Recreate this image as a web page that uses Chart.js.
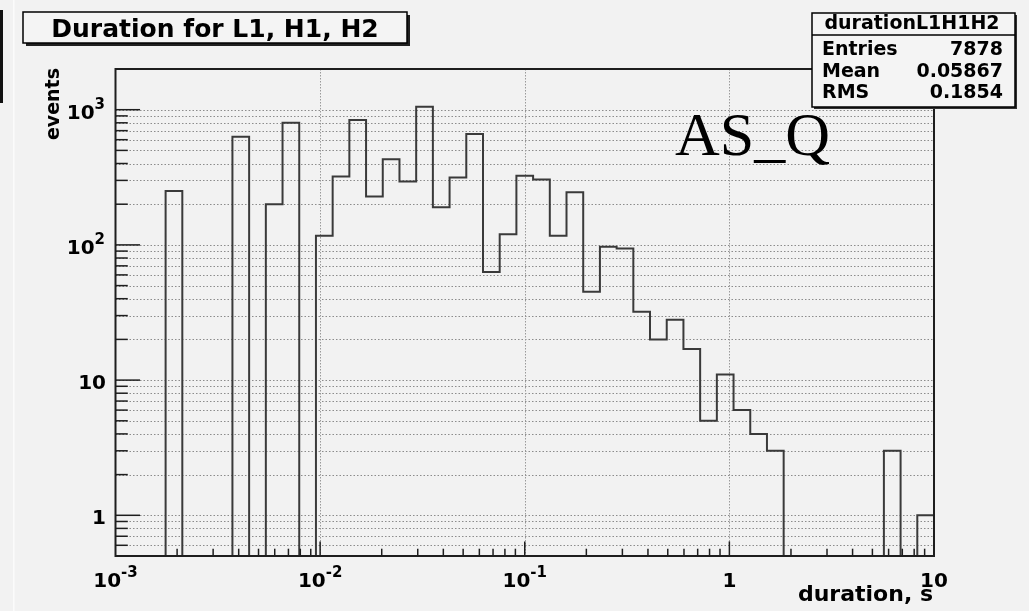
<!DOCTYPE html>
<html>
<head>
<meta charset="utf-8">
<script src="https://cdn.jsdelivr.net/npm/chart.js@4/dist/chart.umd.min.js"></script>
<style>
  html, body { margin: 0; padding: 0; background: #f2f2f2; }
  canvas { display: block; }
</style>
</head>
<body>
<canvas id="hist" width="1029" height="611"></canvas>
<script>
// histogram binning: 49 log-spaced bins from 1e-3 s to 10 s
const nBins = 49;
const xLow = 1e-3;
const xHigh = 10;

// events per bin
const counts = [
  0, 0, 0, 250, 0, 0, 0, 630,
  0, 200, 800, 0, 117, 320, 840, 228,
  430, 295, 1050, 190, 315, 660, 63, 120,
  325, 305, 117, 245, 45, 97, 94, 32,
  20, 28, 17, 5, 11, 6, 4, 3,
  0, 0, 0, 0, 0, 0, 3, 0, 1
];

const yMin = 0.5;
const yMax = 2000;

// major tick labels: [mantissa, exponent]
const xMajor = [1e-3, 1e-2, 1e-1, 1, 10];
const xMajorLabels = [['10', '-3'], ['10', '-2'], ['10', '-1'], ['1', ''], ['10', '']];
const yMajor = [1, 10, 100, 1000];
const yMajorLabels = [['1', ''], ['10', ''], ['10', '2'], ['10', '3']];

const titleText = 'Duration for L1, H1, H2';
const xTitle = 'duration, s';
const yTitle = 'events';
const statsName = 'durationL1H1H2';
const statsRows = [['Entries', '7878'], ['Mean', '0.05867'], ['RMS', '0.1854']];
const tagText = 'AS_Q';

const BOLD = 'bold {s}px "DejaVu Sans", "Liberation Sans", sans-serif';
const font = s => BOLD.replace('{s}', s);

// bin edges and stepped outline
const edges = [];
for (let i = 0; i <= nBins; i++) {
  edges.push(xLow * Math.pow(xHigh / xLow, i / nBins));
}
const outline = counts.map((c, i) => ({ x: edges[i], y: c > 0 ? c : yMin }));
outline.push({ x: edges[nBins], y: yMin });

// all decade sub-ticks (1..9 x 10^n) inside a range
function logTicks(lo, hi) {
  const out = [];
  for (let e = Math.floor(Math.log10(lo)); e <= Math.ceil(Math.log10(hi)); e++) {
    for (let m = 1; m <= 9; m++) {
      const v = m * Math.pow(10, e);
      if (v > lo * 1.0001 && v < hi * 0.9999) out.push({ v, major: m === 1 });
    }
  }
  return out;
}

function drawPower(ctx, x, y, base, exp, align, size, expSize, rise) {
  ctx.font = font(size);
  const wb = ctx.measureText(base).width;
  ctx.font = font(expSize);
  const we = exp ? ctx.measureText(exp).width : 0;
  const total = wb + we;
  let left = align === 'center' ? x - total / 2 : x - total;
  ctx.textAlign = 'left';
  ctx.font = font(size);
  ctx.fillText(base, left, y);
  if (exp) {
    ctx.font = font(expSize);
    ctx.fillText(exp, left + wb, y - rise);
  }
}

const rootFrame = {
  id: 'rootFrame',
  beforeDraw(chart) {
    const ctx = chart.ctx;
    ctx.save();
    ctx.fillStyle = '#f2f2f2';
    ctx.fillRect(0, 0, chart.width, chart.height);
    // edge of neighbouring pad
    ctx.fillStyle = '#111';
    ctx.fillRect(0, 10, 3, 93);
    ctx.fillStyle = '#fbfbfb';
    ctx.fillRect(13, 0, 1.5, chart.height);
    ctx.restore();
  },
  beforeDatasetsDraw(chart) {
    const { ctx, chartArea: a, scales: { x, y } } = chart;
    ctx.save();
    ctx.strokeStyle = '#8c8c8c';
    ctx.lineWidth = 1;
    ctx.setLineDash([1.5, 2]);
    logTicks(yMin, yMax).forEach(t => {
      const py = Math.round(y.getPixelForValue(t.v)) + 0.5;
      ctx.beginPath();
      ctx.moveTo(a.left, py);
      ctx.lineTo(a.right, py);
      ctx.stroke();
    });
    ctx.setLineDash([1.5, 1.5]);
    ctx.strokeStyle = '#9a9a9a';
    logTicks(xLow, xHigh).filter(t => t.major).forEach(t => {
      const px = Math.round(x.getPixelForValue(t.v)) + 0.5;
      ctx.beginPath();
      ctx.moveTo(px, a.top);
      ctx.lineTo(px, a.bottom);
      ctx.stroke();
    });
    ctx.restore();
  },
  afterDatasetsDraw(chart) {
    const { ctx, chartArea: a, scales: { x, y } } = chart;
    ctx.save();
    ctx.strokeStyle = '#1e1e1e';
    ctx.lineWidth = 1.5;
    // inward ticks
    const yLen = 0.03 * (a.right - a.left);
    logTicks(yMin, yMax).forEach(t => {
      const py = y.getPixelForValue(t.v);
      ctx.beginPath();
      ctx.moveTo(a.left, py);
      ctx.lineTo(a.left + (t.major ? yLen : yLen / 2), py);
      ctx.stroke();
    });
    const xLen = 0.03 * (a.bottom - a.top);
    logTicks(xLow, xHigh).forEach(t => {
      const px = x.getPixelForValue(t.v);
      ctx.beginPath();
      ctx.moveTo(px, a.bottom);
      ctx.lineTo(px, a.bottom - (t.major ? xLen : xLen / 2));
      ctx.stroke();
    });
    // frame
    ctx.lineWidth = 2;
    ctx.strokeRect(a.left, a.top, a.right - a.left, a.bottom - a.top);
    ctx.restore();
  },
  afterDraw(chart) {
    const { ctx, chartArea: a, scales: { x, y } } = chart;
    ctx.save();
    ctx.fillStyle = '#000';
    ctx.textBaseline = 'alphabetic';

    // axis labels
    yMajor.forEach((v, i) => {
      const [b, e] = yMajorLabels[i];
      drawPower(ctx, e ? 105 : 106, y.getPixelForValue(v) + 9, b, e, 'right', 20, 15, 10);
    });
    xMajor.forEach((v, i) => {
      const [b, e] = xMajorLabels[i];
      drawPower(ctx, x.getPixelForValue(v), 587, b, e, 'center', 20, 15, 10);
    });

    // axis titles
    ctx.font = font(22);
    ctx.textAlign = 'right';
    ctx.fillText(xTitle, 933, 601);
    ctx.save();
    ctx.translate(59, 68);
    ctx.rotate(-Math.PI / 2);
    ctx.font = font(19);
    ctx.textAlign = 'right';
    ctx.fillText(yTitle, 0, 0);
    ctx.restore();

    // free text
    ctx.font = '62px "Liberation Serif", "DejaVu Serif", serif';
    ctx.textAlign = 'left';
    ctx.fillText(tagText, 675, 155);

    // title box
    ctx.fillStyle = '#202020';
    ctx.fillRect(26, 15, 384, 31);
    ctx.fillStyle = '#f4f4f4';
    ctx.fillRect(23, 12, 384, 31);
    ctx.strokeStyle = '#000';
    ctx.lineWidth = 1.5;
    ctx.strokeRect(23, 12, 384, 31);
    ctx.fillStyle = '#000';
    ctx.font = font(25);
    ctx.textAlign = 'center';
    ctx.fillText(titleText, 215, 37);

    // stats box
    ctx.fillStyle = '#303030';
    ctx.fillRect(814, 15, 203, 94);
    ctx.fillStyle = '#f4f4f4';
    ctx.fillRect(812, 13, 203, 94);
    ctx.strokeRect(812, 13, 203, 94);
    ctx.beginPath();
    ctx.moveTo(812, 35);
    ctx.lineTo(1015, 35);
    ctx.stroke();
    ctx.fillStyle = '#000';
    ctx.font = font(19);
    ctx.textAlign = 'center';
    ctx.fillText(statsName, 912, 29);
    ctx.font = font(19);
    statsRows.forEach((r, i) => {
      const by = 55 + i * 21.5;
      ctx.textAlign = 'left';
      ctx.fillText(r[0], 822, by);
      ctx.textAlign = 'right';
      ctx.fillText(r[1], 1003, by);
    });
    ctx.restore();
  }
};

new Chart(document.getElementById('hist'), {
  type: 'line',
  data: {
    datasets: [{
      data: outline,
      stepped: true,
      borderColor: '#3a3a3a',
      borderWidth: 2,
      pointRadius: 0,
      fill: false
    }]
  },
  options: {
    responsive: false,
    animation: false,
    events: [],
    layout: { padding: { left: 115.5, top: 69, right: 95, bottom: 55 } },
    plugins: {
      legend: { display: false },
      tooltip: { enabled: false }
    },
    scales: {
      x: { type: 'logarithmic', min: xLow, max: xHigh, display: false },
      y: { type: 'logarithmic', min: yMin, max: yMax, display: false }
    }
  },
  plugins: [rootFrame]
});
</script>
</body>
</html>
